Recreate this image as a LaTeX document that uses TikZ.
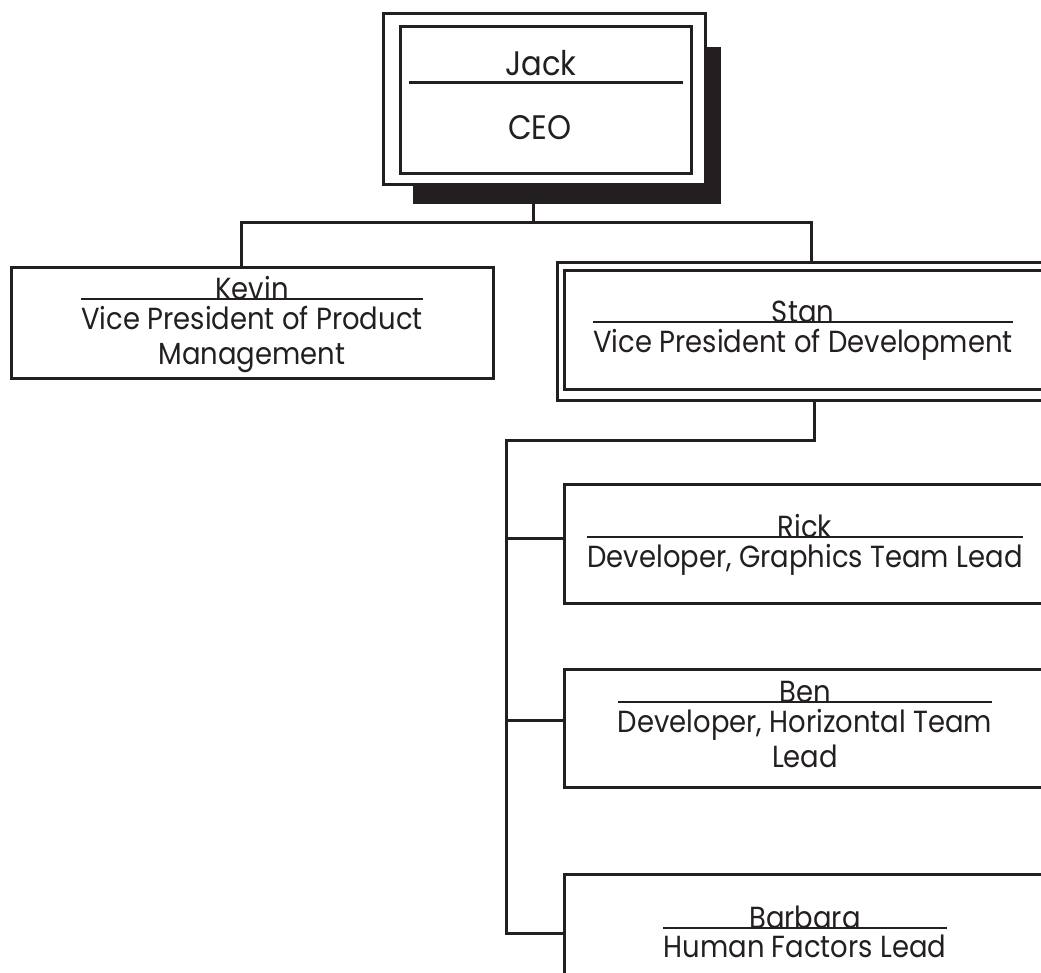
\documentclass[tikz,border=0pt]{standalone}
\usepackage{fontspec}
\setmainfont{Poppins}[FakeStretch=0.9]
\usetikzlibrary{positioning,calc}
\definecolor{ink}{HTML}{231F20}
\newcommand{\chartfont}{\fontsize{30.5}{35}\selectfont}

\begin{document}
\begin{tikzpicture}[
    x=1pt, y=-1pt,
    box/.style={draw=ink, line width=3pt, fill=white, inner sep=0pt, minimum width=482pt, minimum height=119pt},
    person/.style={anchor=base, inner sep=0pt, font=\chartfont, text=ink},
    role/.style={inner sep=0pt, align=center, font=\chartfont, text=ink},
    rule/.style={draw=ink, line width=2.6pt},
    link/.style={draw=ink, line width=3pt}
]
\useasboundingbox (0,0) rectangle (1041,972);
\clip (0,0) rectangle (1041,972);

% CEO box with its shadow
\node[fill=ink, inner sep=0pt, minimum width=308pt, minimum height=157pt] (jackShadow) at (567,125.5) {};
\node[box, minimum width=322pt, minimum height=171pt] (jack) at (544,98.5) {};
\node[box, minimum width=291pt, minimum height=147pt] (jackIn) at (545.5,99.5) {};
\node[person, font=\fontsize{34}{38}\selectfont] (jackN) at (541,75) {Jack};
\draw[rule] ($(jackIn.north west)+(10,58)$) -- ($(jackIn.north east)+(-10,58)$);
\node[role, font=\fontsize{34}{38}\selectfont] (jackR) at (540,128) {CEO};

% vice presidents
\node[box, minimum height=111pt] (kevin) at (252,322.5) {};
\node[person] (kevinN) at (252,299) {Kevin};
\node[role, below=7pt of kevinN.base] (kevinR) {Vice President of Product\\Management};
\draw[rule] (kevinR.north west |- kevinN.base) -- (kevinR.north east |- kevinN.base);

\node[box, minimum width=492pt, minimum height=138pt] (stan) at (803,331) {};
\node[box, minimum width=478pt, minimum height=119pt] (stanIn) at (803,329.5) {};
\node[person] (stanN) at (803,322) {Stan};
\node[role, below=7pt of stanN.base] (stanR) {Vice President of Development};
\draw[rule] (stanR.north west |- stanN.base) -- (stanR.north east |- stanN.base);

% development team
\node[box] (rick) at (805,543.5) {};
\node[person] (rickN) at (805,537) {Rick};
\node[role, below=7pt of rickN.base] (rickR) {Developer, Graphics Team Lead};
\draw[rule] (rickR.north west |- rickN.base) -- (rickR.north east |- rickN.base);

\node[box, minimum height=118pt] (ben) at (805,728) {};
\node[person] (benN) at (805,702) {Ben};
\node[role, below=7pt of benN.base] (benR) {Developer, Horizontal Team\\Lead};
\draw[rule] (benR.north west |- benN.base) -- (benR.north east |- benN.base);

\node[box] (barbara) at (805,933.5) {};
\node[person] (barbaraN) at (805,928) {Barbara};
\node[role, below=7pt of barbaraN.base] (barbaraR) {Human Factors Lead};
\draw[rule] (barbaraR.north west |- barbaraN.base) -- (barbaraR.north east |- barbaraN.base);

% connectors
\coordinate (ceoFork) at (533,222);
\coordinate (devFork) at (506,440);
\draw[link] (ceoFork |- jackShadow.south) -- (ceoFork);
\draw[link] ([xshift=-11pt]kevin.north) |- (ceoFork) -| ([xshift=8pt]stan.north);
\draw[link] ([xshift=11pt]stan.south) |- (devFork) |- (barbara.west);
\draw[link] ([yshift=5.5pt]rick.west) -- ++(-57,0);
\draw[link] ([yshift=8pt]ben.west) -- ++(-57,0);
\end{tikzpicture}
\end{document}
